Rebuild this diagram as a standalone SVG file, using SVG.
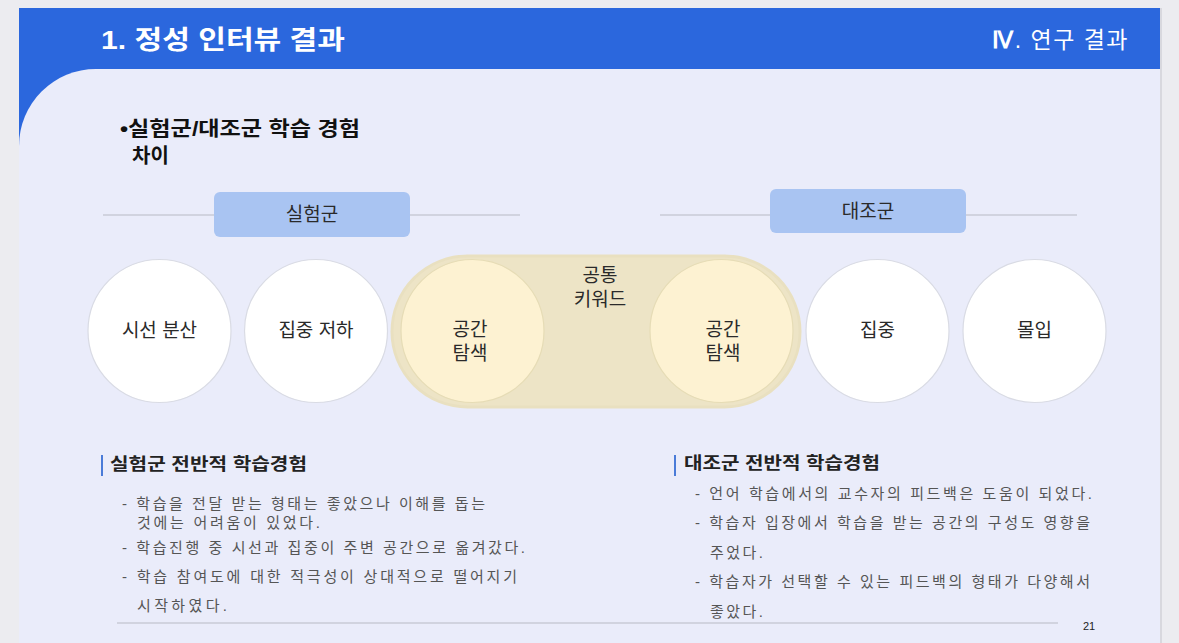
<svg xmlns="http://www.w3.org/2000/svg" width="1179" height="643" viewBox="0 0 1179 643">
<defs>
<style>
text{font-family:"Liberation Sans","Noto Sans CJK KR",sans-serif;}
.circ{fill:#ffffff;stroke:#d9dbe4;stroke-width:1.2;}
.ycirc{fill:#fdf2d2;stroke:#e6dcb6;stroke-width:1.2;}
.lbl{font-size:19px;fill:#2a2a2a;text-anchor:middle;}
.rule{stroke:#c9cbd6;stroke-width:1.5;}
.box{fill:#a9c4f2;}
.head{font-size:17px;font-weight:bold;fill:#222;}
.item{font-size:15px;fill:#555;}
.bar{fill:#4a7bd8;}
</style>
</defs>
<rect width="1179" height="643" fill="#ececf0"/>
<rect x="21" y="8" width="1141" height="635" fill="#d8d8de"/>
<rect x="19" y="8" width="1141" height="160" fill="#2b67dd"/>
<path d="M19,643 L19,146 A77,77 0 0 1 96,69 L1160,69 L1160,643 Z" fill="#eaecfa"/>
<g id="header">
<text x="101" y="49" font-size="26" font-weight="bold" fill="#ffffff" textLength="244" lengthAdjust="spacingAndGlyphs">1. 정성 인터뷰 결과</text>
<text x="1129" y="48" font-size="23" fill="#ffffff" text-anchor="end" letter-spacing="1.5"><tspan font-family="Liberation Serif,serif" font-weight="bold">Ⅳ</tspan>. 연구 결과</text>
</g>
<g id="bullet">
<text x="120" y="136" font-size="20" font-weight="bold" fill="#111" textLength="240" lengthAdjust="spacingAndGlyphs">•실험군/대조군 학습 경험</text>
<text x="132" y="163" font-size="20" font-weight="bold" fill="#111">차이</text>
</g>
<g id="connectors">
<line class="rule" x1="103" y1="215" x2="520" y2="215"/>
<line class="rule" x1="660" y1="215" x2="1077" y2="215"/>
<line class="rule" x1="117" y1="623" x2="1058" y2="623"/>
</g>
<g id="group-exp">
<rect class="box" x="214" y="192" width="196" height="45" rx="6"/>
<text class="lbl" x="312" y="221">실험군</text>
</g>
<g id="group-ctrl">
<rect class="box" x="770" y="189" width="196" height="44" rx="6"/>
<text class="lbl" x="868" y="218">대조군</text>
</g>
<g id="common">
<rect x="392" y="256" width="408" height="151" rx="75.5" fill="#ede4c6" stroke="#e9e0c0" stroke-width="3"/>
<text class="lbl" x="600" y="282">공통</text>
<text class="lbl" x="600" y="306">키워드</text>
</g>
<g id="n1"><circle class="circ" cx="159.5" cy="331" r="71.5"/><text class="lbl" x="159.5" y="337">시선 분산</text></g>
<g id="n2"><circle class="circ" cx="316" cy="331" r="71.5"/><text class="lbl" x="316" y="337">집중 저하</text></g>
<g id="n3"><circle class="ycirc" cx="472.5" cy="331" r="71.5"/><text class="lbl" x="470" y="336">공간</text><text class="lbl" x="470" y="360">탐색</text></g>
<g id="n4"><circle class="ycirc" cx="721.5" cy="331" r="71.5"/><text class="lbl" x="723" y="336">공간</text><text class="lbl" x="723" y="360">탐색</text></g>
<g id="n5"><circle class="circ" cx="877.5" cy="331" r="71.5"/><text class="lbl" x="877.5" y="337">집중</text></g>
<g id="n6"><circle class="circ" cx="1034.5" cy="331" r="71.5"/><text class="lbl" x="1034.5" y="337">몰입</text></g>
<g id="exp-text">
<rect class="bar" x="101" y="455" width="2" height="21"/>
<text class="head" x="110" y="470" textLength="197" lengthAdjust="spacingAndGlyphs">실험군 전반적 학습경험</text>
<text class="item" x="122" y="509" textLength="363" lengthAdjust="spacing">- 학습을 전달 받는 형태는 좋았으나 이해를 돕는</text>
<text class="item" x="137" y="528" textLength="183" lengthAdjust="spacing">것에는 어려움이 있었다.</text>
<text class="item" x="122" y="553" textLength="403" lengthAdjust="spacing">- 학습진행 중 시선과 집중이 주변 공간으로 옮겨갔다.</text>
<text class="item" x="122" y="582" textLength="395" lengthAdjust="spacing">- 학습 참여도에 대한 적극성이 상대적으로 떨어지기</text>
<text class="item" x="137" y="611" textLength="90" lengthAdjust="spacing">시작하였다.</text>
</g>
<g id="ctrl-text">
<rect class="bar" x="674" y="455" width="2" height="21"/>
<text class="head" x="684" y="469" textLength="196" lengthAdjust="spacingAndGlyphs">대조군 전반적 학습경험</text>
<text class="item" x="695" y="499" textLength="397" lengthAdjust="spacing">- 언어 학습에서의 교수자의 피드백은 도움이 되었다.</text>
<text class="item" x="695" y="528" textLength="395" lengthAdjust="spacing">- 학습자 입장에서 학습을 받는 공간의 구성도 영향을</text>
<text class="item" x="710" y="558" textLength="53" lengthAdjust="spacing">주었다.</text>
<text class="item" x="695" y="587" textLength="395" lengthAdjust="spacing">- 학습자가 선택할 수 있는 피드백의 형태가 다양해서</text>
<text class="item" x="710" y="617" textLength="53" lengthAdjust="spacing">좋았다.</text>
</g>
<text x="1083" y="630" font-size="11" fill="#222">21</text>
</svg>
